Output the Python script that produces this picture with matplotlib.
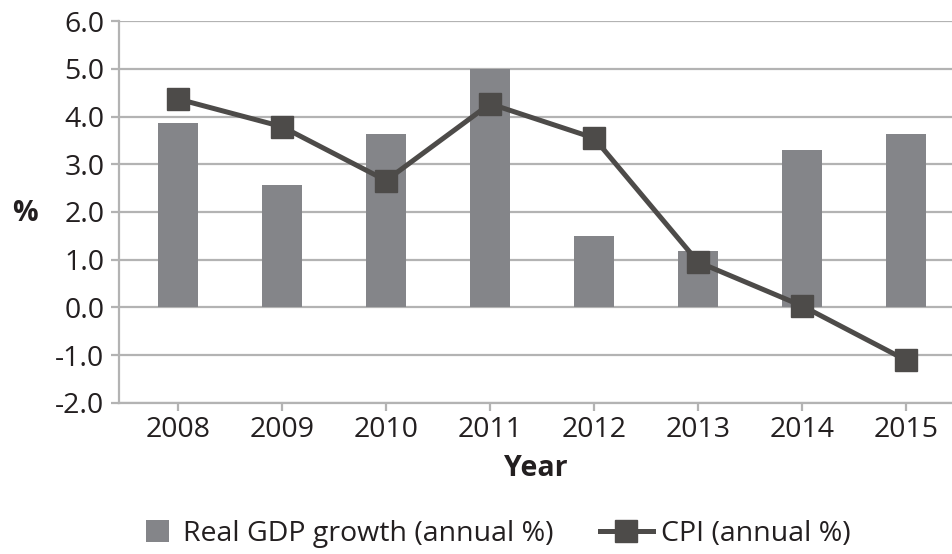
import matplotlib
matplotlib.use("Agg")
import matplotlib.pyplot as plt
from matplotlib.lines import Line2D
from matplotlib.patches import Patch
import numpy as np

years = ["2008", "2009", "2010", "2011", "2012", "2013", "2014", "2015"]
gdp_growth = [3.87, 2.57, 3.64, 5.0, 1.50, 1.18, 3.30, 3.64]
cpi = [4.37, 3.79, 2.66, 4.27, 3.55, 0.95, 0.03, -1.11]
yticks = [-2.0, -1.0, 0.0, 1.0, 2.0, 3.0, 4.0, 5.0, 6.0]

plt.rcParams['font.family'] = ['Open Sans', 'DejaVu Sans']
txt = '#231f20'
grid_c = '#b3b3b3'
bar_c = '#848589'
line_c = '#4d4b49'
fs = 20.5

fig = plt.figure(figsize=(9.53, 5.54), dpi=100)
ax = fig.add_axes([119/953, (554-402.7)/554, 1-119/953, (402.7-21.3)/554])

x = np.arange(len(years))
ax.bar(x, gdp_growth, width=0.385, color=bar_c, zorder=3)
ax.plot(x, cpi, color=line_c, lw=3.6, marker='s', markersize=16.5,
        markerfacecolor=line_c, markeredgecolor=line_c, zorder=4)

ax.set_ylim(-2.0, 6.0)
ax.set_xlim(-0.567, 7.45)
ax.set_yticks(yticks)
ax.set_yticklabels([f"{v:.1f}" for v in yticks])
ax.set_xticks(x)
ax.set_xticklabels(years)

ax.yaxis.grid(True, color=grid_c, lw=1.6, zorder=0)
ax.set_axisbelow(True)
for s in ['top', 'right']:
    ax.spines[s].set_visible(False)
for s in ['left', 'bottom']:
    ax.spines[s].set_color(grid_c)
    ax.spines[s].set_linewidth(1.6)
ax.tick_params(axis='both', colors=grid_c, labelcolor=txt, labelsize=fs,
               length=5.5, width=1.6, direction='out')
ax.tick_params(axis='y', pad=5)
ax.tick_params(axis='x', pad=4)

ax.set_xlabel("Year", fontsize=fs, fontweight='bold', color=txt, labelpad=7)
fig.text(25/953, 1-214/554, "%", fontsize=fs, fontweight='bold', color=txt,
         ha='center', va='center')

h1 = Patch(facecolor=bar_c, edgecolor='none')
h2 = Line2D([0], [0], color=line_c, lw=3.6, marker='s', markersize=16.5,
            markerfacecolor=line_c, markeredgecolor=line_c)
leg1 = fig.legend([h1], ["Real GDP growth (annual %)"], loc='center left',
                  bbox_to_anchor=(146/953, 1-534/554), frameon=False, fontsize=fs,
                  handlelength=0.8, handleheight=0.8, handletextpad=0.5,
                  borderpad=0, borderaxespad=0, labelcolor=txt)
leg2 = fig.legend([h2], ["CPI (annual %)"], loc='center left',
                  bbox_to_anchor=(600/953, 1-534/554), frameon=False, fontsize=fs,
                  handlelength=1.85, handletextpad=0.3,
                  borderpad=0, borderaxespad=0, labelcolor=txt)

fig.savefig("out.png", dpi=100)
